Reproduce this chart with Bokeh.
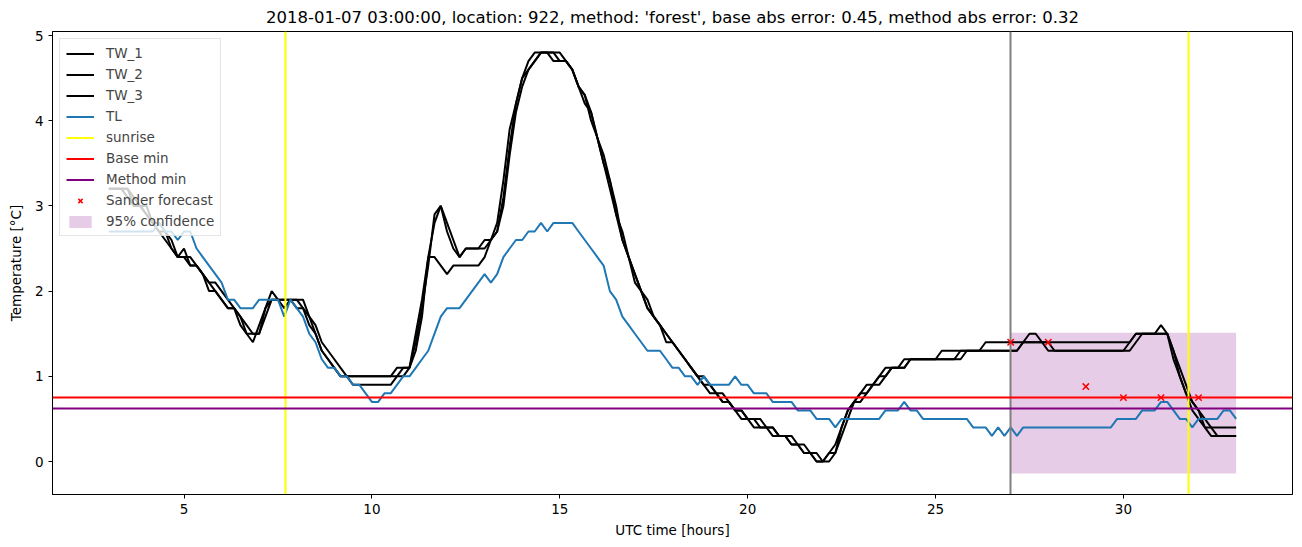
from bokeh.plotting import figure
from bokeh.models import Legend, LegendItem, Range1d, FixedTicker
from bokeh.embed import file_html
from bokeh.resources import INLINE

# ---------------- data ----------------
start_hour = 3.0
step_hours = 1.0 / 6.0   # 10-minute samples
n_samples = 181
hours = [start_hour + k * step_hours for k in range(n_samples)]

tw_1 = [
    3.2, 3.2, 3.2, 3.2, 3.0, 3.0,
    2.9, 2.8, 2.7, 2.7, 2.5, 2.4,
    2.5, 2.3, 2.3, 2.2, 2.1, 2.0,
    1.9, 1.8, 1.8, 1.7, 1.5, 1.4,
    1.6, 1.8, 2.0, 1.9, 1.8, 1.9,
    1.9, 1.8, 1.7, 1.5, 1.3, 1.2,
    1.1, 1.0, 1.0, 1.0, 1.0, 1.0,
    1.0, 1.0, 1.0, 1.0, 1.0, 1.1,
    1.1, 1.4, 1.8, 2.3, 2.9, 3.0,
    2.7, 2.5, 2.4, 2.5, 2.5, 2.5,
    2.6, 2.6, 2.8, 3.3, 3.9, 4.2,
    4.5, 4.6, 4.7, 4.8, 4.8, 4.8,
    4.7, 4.7, 4.6, 4.4, 4.3, 4.1,
    3.8, 3.6, 3.3, 2.9, 2.7, 2.4,
    2.2, 2.0, 1.9, 1.7, 1.6, 1.5,
    1.4, 1.3, 1.2, 1.1, 1.0, 0.9,
    0.8, 0.8, 0.7, 0.7, 0.6, 0.6,
    0.5, 0.5, 0.4, 0.4, 0.4, 0.3,
    0.3, 0.2, 0.2, 0.1, 0.1, 0.0,
    0.0, 0.1, 0.1, 0.4, 0.6, 0.7,
    0.8, 0.8, 0.9, 0.9, 1.0, 1.1,
    1.1, 1.1, 1.2, 1.2, 1.2, 1.2,
    1.2, 1.3, 1.3, 1.3, 1.3, 1.3,
    1.3, 1.3, 1.4, 1.4, 1.4, 1.4,
    1.4, 1.4, 1.4, 1.4, 1.4, 1.4,
    1.4, 1.4, 1.4, 1.4, 1.4, 1.4,
    1.4, 1.4, 1.4, 1.4, 1.4, 1.4,
    1.4, 1.4, 1.5, 1.5, 1.5, 1.5,
    1.6, 1.5, 1.3, 1.0, 0.8, 0.7,
    0.6, 0.4, 0.4, 0.4, 0.4, 0.4,
    0.4,
]

tw_2 = [
    3.2, 3.2, 3.2, 3.2, 3.1, 3.0,
    3.0, 2.8, 2.8, 2.7, 2.6, 2.4,
    2.4, 2.4, 2.3, 2.2, 2.1, 2.1,
    2.0, 1.9, 1.8, 1.7, 1.6, 1.5,
    1.5, 1.7, 1.9, 1.9, 1.9, 1.9,
    1.9, 1.9, 1.7, 1.6, 1.4, 1.3,
    1.2, 1.1, 1.0, 0.9, 0.9, 0.9,
    0.9, 0.9, 0.9, 0.9, 1.0, 1.0,
    1.1, 1.3, 1.7, 2.4, 2.4, 2.3,
    2.2, 2.3, 2.3, 2.3, 2.3, 2.3,
    2.4, 2.6, 2.7, 3.1, 3.7, 4.2,
    4.5, 4.7, 4.8, 4.8, 4.8, 4.7,
    4.7, 4.7, 4.6, 4.4, 4.3, 4.0,
    3.8, 3.5, 3.3, 3.0, 2.6, 2.4,
    2.2, 2.0, 1.8, 1.7, 1.6, 1.5,
    1.4, 1.3, 1.2, 1.1, 1.0, 1.0,
    0.9, 0.8, 0.8, 0.7, 0.6, 0.6,
    0.5, 0.5, 0.5, 0.4, 0.4, 0.3,
    0.3, 0.3, 0.2, 0.2, 0.1, 0.1,
    0.0, 0.0, 0.1, 0.3, 0.5, 0.7,
    0.7, 0.8, 0.9, 1.0, 1.0, 1.1,
    1.1, 1.2, 1.2, 1.2, 1.2, 1.2,
    1.2, 1.2, 1.2, 1.2, 1.3, 1.3,
    1.3, 1.3, 1.3, 1.3, 1.3, 1.3,
    1.3, 1.3, 1.4, 1.5, 1.5, 1.4,
    1.4, 1.3, 1.3, 1.3, 1.3, 1.3,
    1.3, 1.3, 1.3, 1.3, 1.3, 1.3,
    1.3, 1.3, 1.4, 1.5, 1.5, 1.5,
    1.5, 1.5, 1.2, 1.0, 0.8, 0.6,
    0.5, 0.4, 0.3, 0.3, 0.3, 0.3,
    0.3,
]

tw_3 = [
    3.2, 3.2, 3.2, 3.1, 3.0, 3.0,
    2.9, 2.8, 2.7, 2.6, 2.5, 2.4,
    2.4, 2.3, 2.3, 2.2, 2.0, 2.0,
    1.9, 1.8, 1.8, 1.6, 1.5, 1.5,
    1.5, 1.8, 1.9, 1.9, 1.9, 1.9,
    1.8, 1.8, 1.6, 1.5, 1.3, 1.2,
    1.1, 1.0, 1.0, 1.0, 1.0, 1.0,
    1.0, 1.0, 1.0, 1.0, 1.1, 1.1,
    1.1, 1.5, 1.9, 2.4, 2.8, 3.0,
    2.8, 2.6, 2.4, 2.5, 2.5, 2.5,
    2.5, 2.6, 2.7, 3.0, 3.6, 4.1,
    4.4, 4.6, 4.7, 4.8, 4.8, 4.8,
    4.8, 4.7, 4.6, 4.4, 4.2, 4.1,
    3.8, 3.5, 3.2, 2.9, 2.6, 2.4,
    2.1, 2.0, 1.8, 1.7, 1.6, 1.4,
    1.4, 1.3, 1.2, 1.1, 1.0, 0.9,
    0.9, 0.8, 0.7, 0.7, 0.6, 0.5,
    0.5, 0.4, 0.4, 0.4, 0.3, 0.3,
    0.3, 0.2, 0.2, 0.1, 0.1, 0.0,
    0.0, 0.1, 0.2, 0.4, 0.6, 0.7,
    0.8, 0.9, 0.9, 1.0, 1.1, 1.1,
    1.1, 1.1, 1.2, 1.2, 1.2, 1.2,
    1.2, 1.2, 1.2, 1.2, 1.2, 1.3,
    1.3, 1.3, 1.3, 1.3, 1.3, 1.3,
    1.3, 1.3, 1.4, 1.4, 1.4, 1.4,
    1.3, 1.3, 1.3, 1.3, 1.3, 1.3,
    1.3, 1.3, 1.3, 1.3, 1.3, 1.3,
    1.3, 1.4, 1.5, 1.5, 1.5, 1.5,
    1.5, 1.5, 1.3, 1.1, 0.9, 0.7,
    0.6, 0.5, 0.4, 0.3, 0.3, 0.3,
    0.3,
]

tl = [
    2.7, 2.7, 2.7, 2.7, 2.7, 2.7,
    2.7, 2.7, 2.8, 2.7, 2.7, 2.6,
    2.7, 2.7, 2.5, 2.4, 2.3, 2.2,
    2.1, 1.9, 1.9, 1.8, 1.8, 1.8,
    1.9, 1.9, 1.9, 1.9, 1.7, 1.9,
    1.8, 1.7, 1.5, 1.4, 1.2, 1.1,
    1.1, 1.0, 1.0, 0.9, 0.9, 0.8,
    0.7, 0.7, 0.8, 0.8, 0.9, 1.0,
    1.0, 1.1, 1.2, 1.3, 1.5, 1.7,
    1.8, 1.8, 1.8, 1.9, 2.0, 2.1,
    2.2, 2.1, 2.2, 2.4, 2.5, 2.6,
    2.6, 2.7, 2.7, 2.8, 2.7, 2.8,
    2.8, 2.8, 2.8, 2.7, 2.6, 2.5,
    2.4, 2.3, 2.0, 1.9, 1.7, 1.6,
    1.5, 1.4, 1.3, 1.3, 1.3, 1.2,
    1.1, 1.1, 1.0, 1.0, 0.9, 1.0,
    0.9, 0.9, 0.9, 0.9, 1.0, 0.9,
    0.9, 0.8, 0.8, 0.8, 0.7, 0.7,
    0.7, 0.7, 0.6, 0.6, 0.6, 0.5,
    0.5, 0.5, 0.4, 0.5, 0.5, 0.5,
    0.5, 0.5, 0.5, 0.5, 0.6, 0.6,
    0.6, 0.7, 0.6, 0.6, 0.5, 0.5,
    0.5, 0.5, 0.5, 0.5, 0.5, 0.5,
    0.4, 0.4, 0.4, 0.3, 0.4, 0.3,
    0.4, 0.3, 0.4, 0.4, 0.4, 0.4,
    0.4, 0.4, 0.4, 0.4, 0.4, 0.4,
    0.4, 0.4, 0.4, 0.4, 0.4, 0.5,
    0.5, 0.5, 0.5, 0.6, 0.6, 0.6,
    0.7, 0.7, 0.6, 0.5, 0.5, 0.4,
    0.5, 0.5, 0.5, 0.5, 0.6, 0.6,
    0.5,
]

sunrise_hours = [7.70, 31.72]
forecast_hour = [27.0]
base_min = [0.75]
method_min = [0.62]
sander_hours = [27, 28, 29, 30, 31, 32]
sander_values = [1.40, 1.40, 0.88, 0.75, 0.75, 0.75]
conf_hours = [27.0, 33.0]
conf_lower = [-0.14, -0.14]
conf_upper = [1.51, 1.51]

x_ticks = [5, 10, 15, 20, 25, 30]
y_ticks = [0, 1, 2, 3, 4, 5]

title_text = ("2018-01-07 03:00:00, location: 922, method: 'forest', "
              "base abs error: 0.45, method abs error: 0.32")

assert len(tw_1) == n_samples and len(tw_2) == n_samples
assert len(tw_3) == n_samples and len(tl) == n_samples

# ---------------- ranges (matplotlib-like 5% margins) ----------------
xmin, xmax = hours[0], hours[-1]
xpad = 0.05 * (xmax - xmin)
all_y = tw_1 + tw_2 + tw_3 + tl + conf_lower + conf_upper + sander_values
ymin, ymax = min(all_y), max(all_y)
ypad = 0.05 * (ymax - ymin)

FONT = "DejaVu Sans"

p = figure(width=1302, height=547, output_backend="svg", toolbar_location=None,
           x_range=Range1d(xmin - xpad, xmax + xpad),
           y_range=Range1d(ymin - ypad, ymax + ypad),
           min_border_left=52, min_border_right=10,
           min_border_top=31, min_border_bottom=53)
p.title.text = title_text
p.title.align = "center"
p.title.text_font = FONT
p.title.text_font_size = "16.5px"
p.title.text_font_style = "normal"
p.title.text_color = "black"

p.outline_line_color = "black"
p.outline_line_alpha = 1.0
p.outline_line_width = 1
p.xgrid.visible = False
p.ygrid.visible = False
p.background_fill_color = "white"
p.border_fill_color = "white"

for ax in (p.xaxis[0], p.yaxis[0]):
    ax.major_label_text_font = FONT
    ax.major_label_text_font_size = "13.5px"
    ax.major_label_text_color = "black"
    ax.axis_label_text_font = FONT
    ax.axis_label_text_font_size = "13.5px"
    ax.axis_label_text_font_style = "normal"
    ax.axis_label_text_color = "black"
    ax.minor_tick_line_color = None
    ax.major_tick_out = 4
    ax.major_tick_in = 0
    ax.major_tick_line_color = "black"
    ax.axis_line_color = "black"

p.xaxis[0].ticker = FixedTicker(ticks=x_ticks)
p.yaxis[0].ticker = FixedTicker(ticks=y_ticks)
p.xaxis[0].axis_label = "UTC time [hours]"
p.yaxis[0].axis_label = "Temperature [°C]"
p.xaxis[0].major_label_standoff = 5
p.xaxis[0].axis_label_standoff = 5
p.yaxis[0].major_label_standoff = 5
p.yaxis[0].axis_label_standoff = 8

LW = 2
# confidence band first (underneath)
r_conf = p.varea(x=conf_hours, y1=conf_lower, y2=conf_upper,
                 fill_color="purple", fill_alpha=0.2)

r_tw1 = p.line(hours, tw_1, line_color="black", line_width=LW)
r_tw2 = p.line(hours, tw_2, line_color="black", line_width=LW)
r_tw3 = p.line(hours, tw_3, line_color="black", line_width=LW)
r_tl = p.line(hours, tl, line_color="#1f77b4", line_width=LW)

r_sun = p.vspan(x=sunrise_hours, line_color="yellow", line_width=LW)
p.vspan(x=forecast_hour, line_color="grey", line_width=LW)
r_base = p.hspan(y=base_min, line_color="red", line_width=LW)
r_meth = p.hspan(y=method_min, line_color="purple", line_width=LW)

r_sander = p.scatter(sander_hours, sander_values, marker="x", size=9,
                     line_color="red", line_width=1.5)

legend = Legend(items=[
    LegendItem(label="TW_1", renderers=[r_tw1]),
    LegendItem(label="TW_2", renderers=[r_tw2]),
    LegendItem(label="TW_3", renderers=[r_tw3]),
    LegendItem(label="TL", renderers=[r_tl]),
    LegendItem(label="sunrise", renderers=[r_sun]),
    LegendItem(label="Base min", renderers=[r_base]),
    LegendItem(label="Method min", renderers=[r_meth]),
    LegendItem(label="Sander forecast", renderers=[r_sander]),
    LegendItem(label="95% confidence", renderers=[r_conf]),
], location="top_left")
legend.margin = 7
legend.padding = 6
legend.spacing = 5
legend.label_text_font = FONT
legend.label_text_font_size = "13.5px"
legend.label_height = 15
legend.glyph_height = 15
legend.glyph_width = 28
legend.label_standoff = 12
legend.border_line_color = "#cccccc"
legend.border_line_width = 1
legend.background_fill_alpha = 0.8
p.add_layout(legend)

open("out.html", "w").write(file_html(p, INLINE))
